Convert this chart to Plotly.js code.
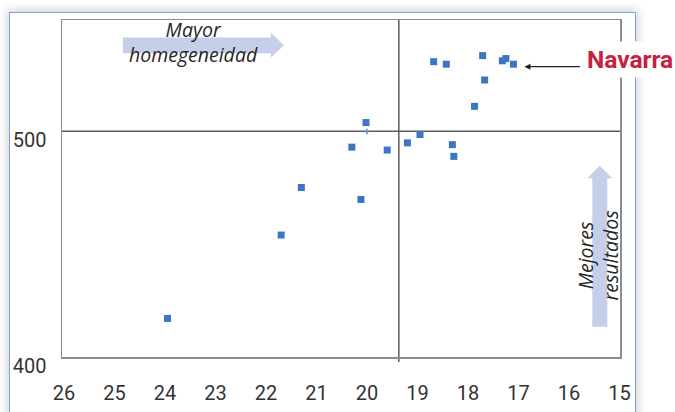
<!DOCTYPE html>
<html>
<head>
<meta charset="utf-8">
<script src="https://cdn.plot.ly/plotly-3.0.1.min.js"></script>
<style>
  html, body { margin:0; padding:0; background:#ffffff; width:675px; height:412px; overflow:hidden; }
  #frame { position:absolute; left:9px; top:12px; width:625px; height:430px; border:1px solid #7ea3d8; background:#fff;
           box-shadow: 0 0 9px 2px rgba(0,0,0,0.18); }
  #chart { position:absolute; left:0; top:0; width:675px; height:412px; }
</style>
</head>
<body>
<div id="frame"></div>
<div id="chart"></div>
<script>
// Data (x axis reversed, 26 -> 15)
const xValues = [23.95, 21.70, 21.30, 20.12, 20.30, 19.60, 20.02, 19.20, 18.95, 18.31, 18.28, 17.87, 18.68, 18.43, 17.71, 17.67, 17.32, 17.25, 17.10];
const yValues = [416.9, 453.9, 475.0, 469.7, 492.9, 491.6, 503.8, 494.8, 498.5, 494.0, 488.8, 511.0, 530.8, 529.7, 533.5, 522.7, 531.2, 532.2, 529.7];
const smallX = [20.0];
const smallY = [499.8];
const navarraX = 17.10;
const navarraY = 529.7;
const refX = 19.37;   // vertical reference line
const refY = 500;     // horizontal reference line
const xTicks = [26, 25, 24, 23, 22, 21, 20, 19, 18, 17, 16, 15];
const yTicks = [400, 500];
const labelNavarra = 'Navarra';
const labelTop = ['Mayor', 'homegeneidad'];
const labelRight = ['Mejores', 'resultados'];

// layout helpers (pixel -> paper)
const L = 62, R = 55, T = 20, B = 55, W = 675, H = 412;
const PW = W - L - R, PH = H - T - B;
const px = v => (v - L) / PW;
const py = v => (H - B - v) / PH;
function poly(pts) {
  return 'M ' + pts.map(p => px(p[0]).toFixed(5) + ',' + py(p[1]).toFixed(5)).join(' L ') + ' Z';
}

const arrowColor = '#c5cfea';
const tickFont = {family: 'Roboto, sans-serif', size: 20, color: '#333333'};
const italFont = {family: 'Open Sans, sans-serif', size: 19.5, style: 'italic', color: '#262626'};

const traces = [
  {x: xValues, y: yValues, type: 'scatter', mode: 'markers',
   marker: {symbol: 'square', size: 7, color: '#3c75c3'}, hoverinfo: 'x+y'},
  {x: smallX, y: smallY, type: 'scatter', mode: 'markers',
   marker: {symbol: 'diamond-tall', size: 5, color: '#6d97d2'}, hoverinfo: 'x+y'}
];

const layout = {
  width: W, height: H,
  margin: {l: L, r: R, t: T, b: B},
  paper_bgcolor: 'rgba(0,0,0,0)',
  plot_bgcolor: '#ffffff',
  showlegend: false,
  xaxis: {
    range: [26.04, 14.99], tickvals: xTicks, ticktext: xTicks.map(String),
    showgrid: false, zeroline: false, ticks: '',
    showline: true, mirror: true, linecolor: '#8c8c8c', linewidth: 1.5,
    tickfont: tickFont, ticklabelstandoff: 17
  },
  yaxis: {
    range: [399.8, 549.3], tickvals: yTicks, ticktext: yTicks.map(String),
    showgrid: false, zeroline: false, ticks: '',
    showline: true, mirror: true, linecolor: '#8c8c8c', linewidth: 1.5,
    tickfont: tickFont, ticklabelstandoff: 10, ticklabelshift: 9
  },
  shapes: [
    {type: 'line', xref: 'x', yref: 'paper', x0: refX, x1: refX, y0: -0.015, y1: 1,
     line: {color: '#5a5a5a', width: 1.5}, layer: 'below'},
    {type: 'line', xref: 'paper', yref: 'y', x0: 0, x1: 1, y0: refY, y1: refY,
     line: {color: '#5a5a5a', width: 1.5}, layer: 'below'},
    {type: 'path', xref: 'paper', yref: 'paper', layer: 'below', fillcolor: arrowColor, line: {width: 0},
     path: poly([[123,37.5],[271,37.5],[271,32.7],[284,45.3],[271,57.5],[271,53.3],[123,53.3]])},
    {type: 'path', xref: 'paper', yref: 'paper', layer: 'below', fillcolor: arrowColor, line: {width: 0},
     path: poly([[592.3,326.7],[592.3,178.3],[587.3,178.3],[599.8,165.7],[612.3,178.3],[607.3,178.3],[607.3,326.7]])}
  ],
  annotations: [
    {xref: 'paper', yref: 'paper', x: px(193.5), y: py(41.5), text: labelTop.join('<br>'), showarrow: false,
     xanchor: 'center', yanchor: 'middle', align: 'center', font: italFont},
    {xref: 'paper', yref: 'paper', x: px(597.5), y: py(256), text: labelRight.join('<br>'), showarrow: false,
     textangle: -90, xanchor: 'center', yanchor: 'middle', align: 'center', font: italFont},
    {x: navarraX, y: navarraY, xref: 'x', yref: 'y', text: ' ', font: {size: 1},
     showarrow: true, arrowhead: 2, arrowsize: 1, arrowwidth: 1.2, arrowcolor: '#222222',
     ax: 57, ay: 0, xshift: 11, yshift: -2.5},
    {xref: 'paper', yref: 'paper', x: px(630), y: py(59.5), text: '<b>' + labelNavarra + '</b>', showarrow: false,
     xanchor: 'center', yanchor: 'middle', bgcolor: '#ffffff', borderpad: 3,
     font: {family: 'Roboto, sans-serif', size: 24.5, color: '#c8213f'}}
  ]
};

Plotly.newPlot('chart', traces, layout, {staticPlot: true, displayModeBar: false});
</script>
</body>
</html>
